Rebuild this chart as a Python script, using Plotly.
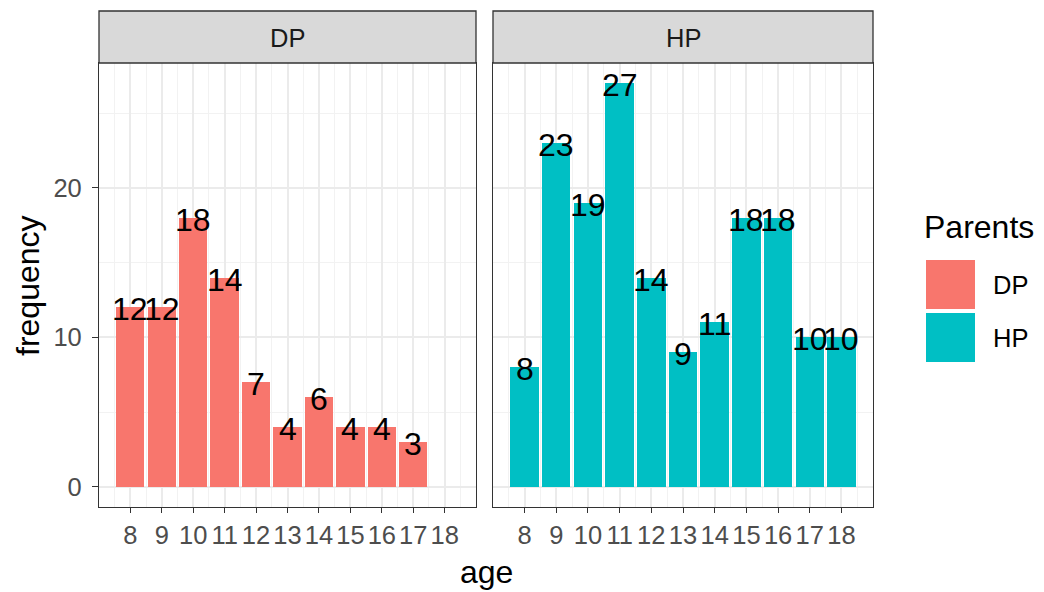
import plotly.graph_objects as go

ages_dp = [8, 9, 10, 11, 12, 13, 14, 15, 16, 17]
freq_dp = [12, 12, 18, 14, 7, 4, 6, 4, 4, 3]
ages_hp = [8, 9, 10, 11, 12, 13, 14, 15, 16, 17, 18]
freq_hp = [8, 23, 19, 27, 14, 9, 11, 18, 18, 10, 10]
x_ticks = list(range(8, 19))
y_ticks = [0, 10, 20]
groups = ["DP", "HP"]
colors = {"DP": "#F8766D", "HP": "#00BFC4"}

W, H = 1044, 592
FONT = "Liberation Sans, Arial, sans-serif"
SMALL = 25.5
BIG = 32

fig = go.Figure()
data = {"DP": (ages_dp, freq_dp), "HP": (ages_hp, freq_hp)}
axes = {"DP": ("x", "y"), "HP": ("x2", "y2")}
annotations = []
for g in groups:
    xs, ys = data[g]
    xa, ya = axes[g]
    fig.add_trace(go.Bar(x=xs, y=ys, width=0.9, marker=dict(color=colors[g], line=dict(width=0)),
                         xaxis=xa, yaxis=ya, showlegend=False, name=g))
    for xv, yv in zip(xs, ys):
        annotations.append(dict(text=str(yv), xref=xa, yref=ya, x=xv, y=yv, yshift=-2,
                                showarrow=False, xanchor="center", yanchor="middle",
                                font=dict(size=BIG, color="black", family=FONT)))

def px_x(p):
    return p / W

def px_y(p):
    return 1 - p / H

dom_y = [px_y(507), px_y(63)]
xcommon = dict(range=[7.005, 18.995], tickvals=x_ticks, ticktext=[str(t) for t in x_ticks],
               showgrid=True, gridcolor="#EBEBEB", gridwidth=1.5,
               minor=dict(dtick=0.5, tick0=7.5, showgrid=True, gridcolor="#F2F2F2", gridwidth=0.8),
               zeroline=False, showline=True, mirror=True, linecolor="#333333", linewidth=1.3,
               ticks="outside", ticklen=5, tickwidth=1.3, tickcolor="#333333",
               tickfont=dict(size=SMALL, color="#4D4D4D", family=FONT), fixedrange=True)
ycommon = dict(range=[-1.35, 28.35], tickvals=y_ticks,
               showgrid=True, gridcolor="#EBEBEB", gridwidth=1.5,
               minor=dict(tickvals=[5, 15, 25], showgrid=True, gridcolor="#F2F2F2", gridwidth=0.8),
               zeroline=False, showline=True, mirror=True, linecolor="#333333", linewidth=1.3,
               tickfont=dict(size=SMALL, color="#4D4D4D", family=FONT), fixedrange=True)

fig.update_layout(
    width=W, height=H, margin=dict(l=0, r=0, t=0, b=0),
    paper_bgcolor="white", plot_bgcolor="white", bargap=0,
    xaxis=dict(domain=[px_x(99), px_x(476)], anchor="y", **xcommon),
    xaxis2=dict(domain=[px_x(493), px_x(873)], anchor="y2", **xcommon),
    yaxis=dict(domain=dom_y, anchor="x", ticks="outside", ticklen=6, tickwidth=1.3,
               tickcolor="#333333", showticklabels=True, ticklabelstandoff=5, **ycommon),
    yaxis2=dict(domain=dom_y, anchor="x2", ticks="", showticklabels=False, **ycommon),
    showlegend=False,
)

shapes = []
# strips
for g, xr in (("DP", "x domain"), ("HP", "x2 domain")):
    shapes.append(dict(type="rect", xref=xr, yref="paper", x0=0, x1=1, y0=px_y(63), y1=px_y(11),
                       fillcolor="#D9D9D9", line=dict(color="#333333", width=1.3), layer="above"))
    annotations.append(dict(text=g, xref=xr, yref="paper", x=0.5, y=px_y(37.5), showarrow=False,
                            font=dict(size=SMALL, color="#1A1A1A", family=FONT),
                            xanchor="center", yanchor="middle"))
# axis titles
annotations.append(dict(text="age", xref="paper", yref="paper", x=px_x(486), y=px_y(572),
                        showarrow=False, font=dict(size=BIG, color="black", family=FONT),
                        xanchor="center", yanchor="middle"))
annotations.append(dict(text="frequency", xref="paper", yref="paper", x=px_x(28), y=px_y(286),
                        showarrow=False, textangle=-90, font=dict(size=BIG, color="black", family=FONT),
                        xanchor="center", yanchor="middle"))
# legend
annotations.append(dict(text="Parents", xref="paper", yref="paper", x=px_x(922), y=px_y(227),
                        showarrow=False, font=dict(size=BIG, color="black", family=FONT),
                        xanchor="left", yanchor="middle"))
key_tops = {"DP": 260, "HP": 313}
for g in groups:
    t = key_tops[g]
    shapes.append(dict(type="rect", xref="paper", yref="paper", x0=px_x(926), x1=px_x(975),
                       y0=px_y(t + 49), y1=px_y(t), fillcolor=colors[g], line=dict(width=0)))
    annotations.append(dict(text=g, xref="paper", yref="paper", x=px_x(991), y=px_y(t + 25),
                            showarrow=False, font=dict(size=SMALL, color="black", family=FONT),
                            xanchor="left", yanchor="middle"))
fig.update_layout(shapes=shapes, annotations=annotations)

fig.write_html("out.html", config={"displayModeBar": False},
               post_script="document.body.style.margin='0';document.body.style.overflow='hidden';")
